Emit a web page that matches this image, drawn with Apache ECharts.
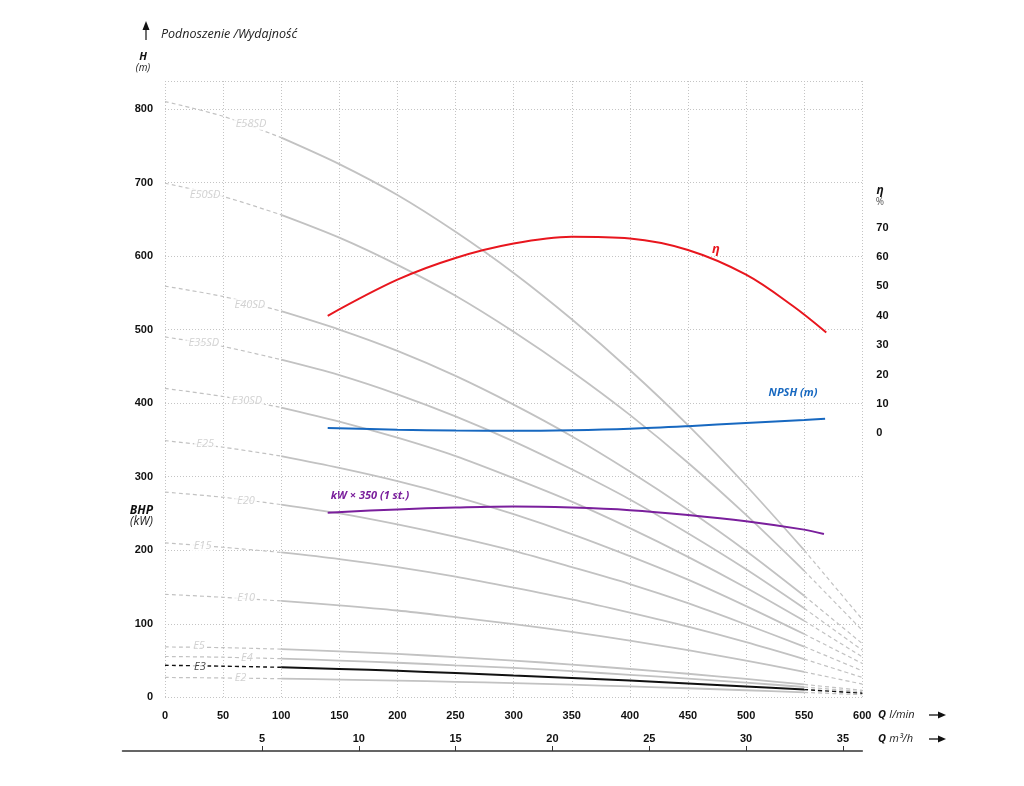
<!DOCTYPE html>
<html>
<head>
<meta charset="utf-8">
<title>Podnoszenie / Wydajność</title>
<script src="https://cdn.jsdelivr.net/npm/echarts@6.0.0/dist/echarts.min.js"></script>
<style>
  html, body { margin: 0; padding: 0; background: #fff; }
  #main { width: 1024px; height: 786px; }
</style>
</head>
<body>
<div id="main"></div>
<script>
// przepływ Q (l/min) - punkty odczytu krzywych
var flowQ = [0, 50, 100, 150, 200, 250, 300, 350, 400, 450, 500, 550, 600];

// podnoszenie H (m) dla każdego modelu
var headE58SD = [810, 790, 761, 725, 683, 633, 577, 514, 445, 370, 288, 200, 106];
var headE50SD = [699, 681, 656, 625, 588, 546, 497, 443, 384, 319, 248, 172, 91];
var headE40SD = [559, 545, 525, 500, 471, 437, 398, 355, 307, 255, 199, 138, 73];
var headE35SD = [490, 477, 459, 438, 412, 382, 348, 310, 269, 223, 174, 121, 64];
var headE30SD = [420, 409, 394, 375, 353, 328, 298, 266, 230, 191, 149, 104, 55];
var headE25   = [349, 340, 328, 312, 294, 273, 249, 222, 192, 160, 124, 86, 46];
var headE20   = [279, 272, 262, 250, 235, 218, 199, 177, 154, 128, 99, 69, 36];
var headE15   = [210, 204, 197, 188, 177, 164, 149, 133, 115, 96, 75, 52, 27];
var headE10   = [140, 136, 131, 125, 118, 109, 99.5, 89, 77, 64, 50, 34.5, 18];
var headE5    = [68.5, 67.5, 65.5, 62.5, 59, 54.5, 50, 44.5, 38.5, 32, 25, 17.5, 9.5];
var headE4    = [55.5, 54.5, 52.5, 50, 47, 43.5, 40, 35.5, 30.5, 25.5, 20, 14, 7.5];
var headE3    = [43.5, 42.3, 40.8, 38.6, 36, 33, 29.5, 26.3, 22.8, 18.9, 14.8, 10.5, 5.6];
var headE2    = [27, 26.3, 25.3, 24.1, 22.7, 21.1, 19.2, 17.1, 14.8, 12.3, 9.6, 6.7, 3.5];

var modelNames = ['E58SD', 'E50SD', 'E40SD', 'E35SD', 'E30SD', 'E25', 'E20', 'E15', 'E10', 'E5', 'E4', 'E3', 'E2'];
var modelHeads = [headE58SD, headE50SD, headE40SD, headE35SD, headE30SD, headE25, headE20, headE15, headE10, headE5, headE4, headE3, headE2];

// położenie opisów modeli na odcinku przerywanym (Q, H)
var labelQ = [74, 34.5, 73, 33.4, 70.4, 34.5, 69.7, 32.3, 69.8, 29.3, 70.4, 30, 65];
var labelH = [780, 683, 533, 482, 403.5, 344.6, 267.5, 206, 135, 70, 54, 41.6, 26.7];

// sprawność η (%)
var etaQ = [140, 200, 250, 300, 350, 400, 450, 500, 540, 569];
var etaVal = [40.0, 52.3, 59.7, 64.6, 66.9, 66.3, 62.4, 54.0, 43.4, 34.3];

// NPSH (m)
var npshQ = [140, 200, 250, 300, 350, 400, 450, 500, 550, 568];
var npshVal = [1.8, 1.2, 0.9, 0.8, 1.0, 1.5, 2.4, 3.5, 4.5, 4.9];

// moc kW x 350 (1 st.)
var kwQ = [140, 200, 250, 300, 350, 400, 450, 500, 550, 567];
var kwVal = [251, 255.5, 258, 259.5, 258, 254.5, 248, 239.5, 228, 222];

// podziałka Q m3/h
var m3hTicks = [5, 10, 15, 20, 25, 30, 35];

var GRAY = '#c2c2c2';
var numFont = { color: '#111', fontSize: 11, fontWeight: 'bold', fontFamily: 'Liberation Sans, Arial' };

function pairs(xs, ys) {
    var out = [];
    for (var i = 0; i < xs.length; i++) {
        out.push([xs[i], ys[i]]);
    }
    return out;
}

var series = [];
for (var m = 0; m < modelNames.length; m++) {
    var h = modelHeads[m];
    var isE3 = modelNames[m] === 'E3';
    var col = isE3 ? '#111' : GRAY;
    //odcinki przerywane: 0-100 i 550-600
    var dashed = [];
    for (var i = 0; i <= 2; i++) dashed.push([flowQ[i], h[i]]);
    dashed.push(null);
    for (var j = 11; j <= 12; j++) dashed.push([flowQ[j], h[j]]);
    //odcinek ciągły 100-550
    var solid = [];
    for (var k = 2; k <= 11; k++) solid.push([flowQ[k], h[k]]);

    series.push({
        name: modelNames[m] + '-d', type: 'line', data: dashed, smooth: 0.3,
        showSymbol: false, connectNulls: false, z: 2, silent: true,
        lineStyle: { color: col, width: isE3 ? 1.4 : 1.2, type: [4, 3] }
    });
    series.push({
        name: modelNames[m], type: 'line', data: solid, smooth: 0.3,
        showSymbol: false, z: isE3 ? 3 : 2, silent: true,
        lineStyle: { color: col, width: isE3 ? 2 : 1.8 }
    });
}

// opisy modeli (białe tło przerywa linię)
var labelData = [];
for (var n = 0; n < modelNames.length; n++) {
    var item = { value: [labelQ[n], labelH[n], modelNames[n]] };
    if (modelNames[n] === 'E3') item.label = { color: '#111' };
    labelData.push(item);
}
series.push({
    name: 'opisy', type: 'scatter', data: labelData, symbolSize: 0, z: 6, silent: true,
    label: {
        show: true, position: 'inside',
        formatter: function (p) { return p.data.value[2]; },
        color: '#c6c6c6', fontStyle: 'italic', fontSize: 11, fontFamily: 'Open Sans',
        backgroundColor: '#fff', padding: [1, 2]
    }
});

series.push({
    name: 'η', type: 'line', yAxisIndex: 1, data: pairs(etaQ, etaVal), smooth: 0.35,
    showSymbol: false, z: 4, lineStyle: { color: '#e8161e', width: 2 }
});
series.push({
    name: 'NPSH (m)', type: 'line', yAxisIndex: 1, data: pairs(npshQ, npshVal), smooth: 0.35,
    showSymbol: false, z: 4, lineStyle: { color: '#1768c0', width: 2 }
});
series.push({
    name: 'kW', type: 'line', data: pairs(kwQ, kwVal), smooth: 0.35,
    showSymbol: false, z: 4, lineStyle: { color: '#7a1f9c', width: 2 }
});

function arrow(x, y) {
    return {
        type: 'group', children: [
            { type: 'line', shape: { x1: x, y1: y, x2: x + 12, y2: y }, style: { stroke: '#111', lineWidth: 1.3 } },
            { type: 'polygon', shape: { points: [[x + 9, y - 3.5], [x + 17, y], [x + 9, y + 3.5]] }, style: { fill: '#111' } }
        ]
    };
}

function txt(x, y, text, opts) {
    var st = {
        text: text, x: x, y: y, fill: '#222', fontSize: 11,
        fontFamily: 'Open Sans', fontStyle: 'italic', textAlign: 'center', textVerticalAlign: 'middle'
    };
    for (var key in opts) st[key] = opts[key];
    return { type: 'text', style: st, silent: true };
}

var option = {
    backgroundColor: '#fff',
    animation: false,
    grid: [
        { left: 165, right: 161.7, top: 81, bottom: 88.7 },
        { left: 122.5, right: 161.7, top: 750, height: 1 }
    ],
    xAxis: [
        {
            type: 'value', min: 0, max: 600, interval: 50,
            axisLine: { show: false }, axisTick: { show: false },
            axisLabel: Object.assign({ margin: 13 }, numFont),
            splitLine: { show: true, lineStyle: { color: '#c4c4c4', type: [1, 2], width: 1 } }
        },
        {
            gridIndex: 1, type: 'value', min: -2.2, max: 36,
            axisLine: { show: true, onZero: false, lineStyle: { color: '#333', width: 1.5 } },
            axisTick: { show: true, inside: true, length: 5, customValues: m3hTicks, lineStyle: { color: '#333', width: 1 } },
            axisLabel: Object.assign({ inside: true, margin: 7, customValues: m3hTicks }, numFont),
            splitLine: { show: false }
        }
    ],
    yAxis: [
        {
            type: 'value', min: 0, max: 838, interval: 100,
            axisLine: { show: false }, axisTick: { show: false },
            axisLabel: Object.assign({
                margin: 12,
                formatter: function (v) { return v % 100 === 0 ? String(v) : ''; }
            }, numFont),
            splitLine: { show: true, lineStyle: { color: '#c4c4c4', type: [1, 2], width: 1 } }
        },
        {
            type: 'value', min: -90, max: 120, interval: 10, position: 'right',
            axisLine: { show: false }, axisTick: { show: false },
            axisLabel: Object.assign({
                margin: 14, align: 'left',
                formatter: function (v) { return (v >= 0 && v <= 70) ? String(v) : ''; }
            }, numFont),
            splitLine: { show: false }
        },
        { gridIndex: 1, type: 'value', show: false, min: 0, max: 1 }
    ],
    graphic: [
        // strzałka osi pionowej
        { type: 'line', shape: { x1: 146, y1: 40, x2: 146, y2: 26 }, style: { stroke: '#111', lineWidth: 1.2 }, silent: true },
        { type: 'polygon', shape: { points: [[142.5, 30], [146, 21], [149.5, 30]] }, style: { fill: '#111' }, silent: true },
        txt(161, 34, 'Podnoszenie /Wydajność', { textAlign: 'left', fontSize: 12.5, fill: '#222' }),
        txt(143, 57, 'H', { fontWeight: 'bold', fontSize: 11, fill: '#111' }),
        txt(143, 68, '(m)', { fontSize: 10, fill: '#222' }),
        txt(153, 511, 'BHP', { textAlign: 'right', fontWeight: 'bold', fontSize: 12, fill: '#111' }),
        txt(153, 522, '(kW)', { textAlign: 'right', fontSize: 12, fill: '#222' }),
        txt(880, 191, 'η', { fontWeight: 'bold', fontSize: 12, fill: '#111' }),
        txt(880, 202, '%', { fontStyle: 'normal', fontSize: 10, fill: '#555' }),
        txt(716, 249, 'η', { fontWeight: 'bold', fontSize: 13, fill: '#e8161e' }),
        txt(793, 393, 'NPSH (m)', { fontWeight: 'bold', fontSize: 11, fill: '#1768c0' }),
        txt(370, 496, 'kW × 350 (1 st.)', { fontWeight: 'bold', fontSize: 11, fill: '#7a1f9c' }),
        {
            type: 'text', silent: true,
            style: {
                x: 878, y: 715, textVerticalAlign: 'middle', textAlign: 'left',
                text: '{b|Q} {i|l/min}',
                rich: {
                    b: { fontWeight: 'bold', fontStyle: 'italic', fontSize: 11, fontFamily: 'Open Sans', fill: '#111' },
                    i: { fontStyle: 'italic', fontSize: 11, fontFamily: 'Open Sans', fill: '#222' }
                }
            }
        },
        {
            type: 'text', silent: true,
            style: {
                x: 878, y: 739, textVerticalAlign: 'middle', textAlign: 'left',
                text: '{b|Q} {i|m³/h}',
                rich: {
                    b: { fontWeight: 'bold', fontStyle: 'italic', fontSize: 11, fontFamily: 'Open Sans', fill: '#111' },
                    i: { fontStyle: 'italic', fontSize: 11, fontFamily: 'Open Sans', fill: '#222' }
                }
            }
        },
        arrow(929, 715),
        arrow(929, 739)
    ],
    series: series
};

var chart = echarts.init(document.getElementById('main'));
chart.setOption(option);
</script>
</body>
</html>
